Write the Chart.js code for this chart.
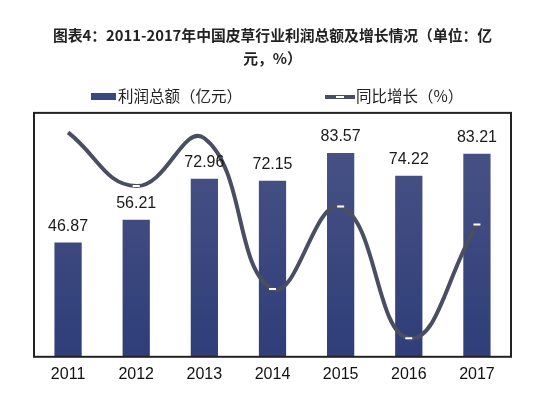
<!DOCTYPE html>
<html>
<head>
<meta charset="utf-8">
<script src="https://cdn.jsdelivr.net/npm/chart.js@4/dist/chart.umd.min.js"></script>
<style>
  html, body { margin: 0; padding: 0; background: #fff; }
  #wrap { width: 545px; height: 398px; }
</style>
</head>
<body>
<div id="wrap"><canvas id="myChart"></canvas></div>
<script>
// data
const years = ['2011', '2012', '2013', '2014', '2015', '2016', '2017'];
const profit = [46.87, 56.21, 72.96, 72.15, 83.57, 74.22, 83.21];   // 利润总额（亿元）
const growth = [31.0, 20.0, 29.8, -1.1, 15.8, -11.2, 12.1];          // 同比增长（%）

const titleLines = ['图表4：2011-2017年中国皮草行业利润总额及增长情况（单位：亿', '元，%）'];
const barLabel = '利润总额（亿元）';
const lineLabel = '同比增长（%）';

const FONT = '"Microsoft YaHei", "Noto Sans CJK SC", Arial, sans-serif';
const LINE_COLOR = '#4a4e63';
const BAR_COLOR = '#3b4880';

function barFill(ctx) {
  const area = ctx.chart.chartArea;
  if (!area) return BAR_COLOR;
  const g = ctx.chart.ctx.createLinearGradient(0, area.top, 0, area.bottom);
  g.addColorStop(0, '#4b5486');
  g.addColorStop(1, '#2f3e79');
  return g;
}

// box round the plot, value labels over bars, legend row
const extras = {
  id: 'extras',
  afterDatasetsDraw(chart) {
    const c = chart.ctx;
    const a = chart.chartArea;
    c.save();
    c.strokeStyle = '#222';
    c.lineWidth = 2;
    c.strokeRect(a.left, a.top, a.right - a.left, a.bottom - a.top);
    c.restore();
  },
  afterDraw(chart) {
    const c = chart.ctx;
    const meta = chart.getDatasetMeta(1);
    c.save();
    c.font = '16px Arial, "Liberation Sans", sans-serif';
    c.fillStyle = '#1a1a1a';
    c.textAlign = 'center';
    c.textBaseline = 'bottom';
    meta.data.forEach(function (bar, i) {
      c.fillText(profit[i].toFixed(2), bar.x, bar.y - 8);
    });

    // legend
    const ly = 96;
    c.font = '15.5px ' + FONT;
    c.textAlign = 'left';
    c.textBaseline = 'middle';
    c.fillStyle = BAR_COLOR;
    c.fillRect(91, ly - 3, 25, 7);
    c.fillStyle = '#222';
    c.fillText(barLabel, 118, ly);

    c.strokeStyle = LINE_COLOR;
    c.lineWidth = 4;
    c.beginPath();
    c.moveTo(325, ly + 1);
    c.lineTo(355, ly + 1);
    c.stroke();
    c.strokeStyle = '#fff';
    c.lineWidth = 2;
    c.beginPath();
    c.moveTo(336, ly + 1);
    c.lineTo(344, ly + 1);
    c.stroke();
    c.fillStyle = '#222';
    c.fillText(lineLabel, 356, ly);
    c.restore();
  }
};

new Chart('myChart', {
  data: {
    labels: years,
    datasets: [{
      type: 'line',
      label: lineLabel,
      data: growth,
      yAxisID: 'y1',
      borderColor: LINE_COLOR,
      backgroundColor: LINE_COLOR,
      borderWidth: 4,
      tension: 0.45,
      pointStyle: 'line',
      // markers at 2011 and 2013 are not visible in the original
      pointRadius: [0, 3.5, 0, 3.5, 3.5, 3.5, 3.5],
      pointBorderWidth: 2,
      pointBorderColor: '#fff',
      pointHoverRadius: 3.5,
      order: 0
    }, {
      type: 'bar',
      label: barLabel,
      data: profit,
      yAxisID: 'y',
      backgroundColor: barFill,
      categoryPercentage: 1,
      barPercentage: 0.4,
      order: 1
    }]
  },
  options: {
    responsive: true,
    maintainAspectRatio: false,
    animation: false,
    layout: { padding: { left: 34, right: 34, top: 0, bottom: 14 } },
    plugins: {
      title: {
        display: true,
        text: titleLines,
        color: '#222',
        font: { family: FONT, size: 14.8, weight: 'bold', lineHeight: 1.55 },
        padding: { top: 23.5, bottom: 43.5 }
      },
      legend: { display: false },
      tooltip: { enabled: false }
    },
    scales: {
      x: {
        grid: { display: false },
        border: { display: false },
        ticks: { color: '#111', font: { family: 'Arial, "Liberation Sans", sans-serif', size: 16 }, padding: 0 }
      },
      y: { display: false, min: 0, max: 100 },
      y1: { display: false, min: -15, max: 35, position: 'right' }
    }
  },
  plugins: [extras]
});
</script>
</body>
</html>
